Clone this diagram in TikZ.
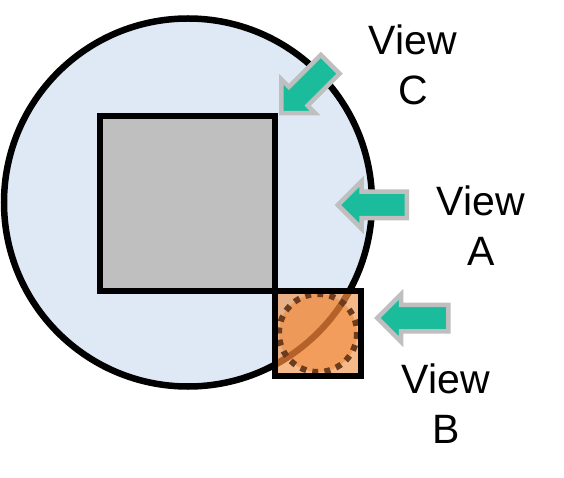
\documentclass[tikz,border=0pt]{standalone}
\usepackage{fontspec}
\setmainfont{Liberation Sans}
\usetikzlibrary{shapes.arrows}
\definecolor{viewteal}{HTML}{1ABC9C}
\definecolor{viewgray}{HTML}{BFBFBF}
\definecolor{diskblue}{HTML}{DEE9F5}
\definecolor{patchorange}{HTML}{F08A3C}
\definecolor{arcbrown}{HTML}{B5622A}
\definecolor{dotbrown}{HTML}{6B3D1E}
\tikzset{
  viewarrow/.style={single arrow,draw=viewgray,fill=viewteal,line width=4.5pt,
    inner sep=0pt,minimum height=69pt,text height=11pt,text depth=11pt,
    single arrow head extend=10.5pt,single arrow tip angle=90},
  viewlabel/.style={align=center,font=\fontsize{41}{50}\selectfont},
  outline/.style={line width=6.5pt,draw=black}
}
\begin{document}
\begin{tikzpicture}[x=1pt,y=-1pt]
  \useasboundingbox (0,0) rectangle (564,478);
  \draw[outline,fill=diskblue] (188,202.5) circle[radius=184];
  \draw[outline,fill=viewgray] (100,116) rectangle (275,291);
  \fill[patchorange,opacity=0.6] (275,291) rectangle (361,376);
  \fill[patchorange,opacity=0.6] (318,333) circle[radius=39];
  \begin{scope}
    \clip (275,291) rectangle (361,376);
    \draw[line width=6pt,color=arcbrown] (188,202.5) circle[radius=184];
  \end{scope}
  \draw[line width=6pt,dash pattern=on 6pt off 6.2pt,color=dotbrown] (318,333) circle[radius=39];
  \draw[outline] (275,291) rectangle (361,376);
  \node[viewarrow,rotate=225] (arrowC) at (310.5,84) {};
  \node[viewarrow,rotate=180] (arrowA) at (379,205) {};
  \node[viewarrow,rotate=180,minimum height=71pt] (arrowB) at (419.5,318) {};
  \node[viewlabel] (labelC) at (413,65) {View\\C};
  \node[viewlabel] (labelA) at (481,226) {View\\A};
  \node[viewlabel] (labelB) at (446,404) {View\\B};
\end{tikzpicture}
\end{document}
